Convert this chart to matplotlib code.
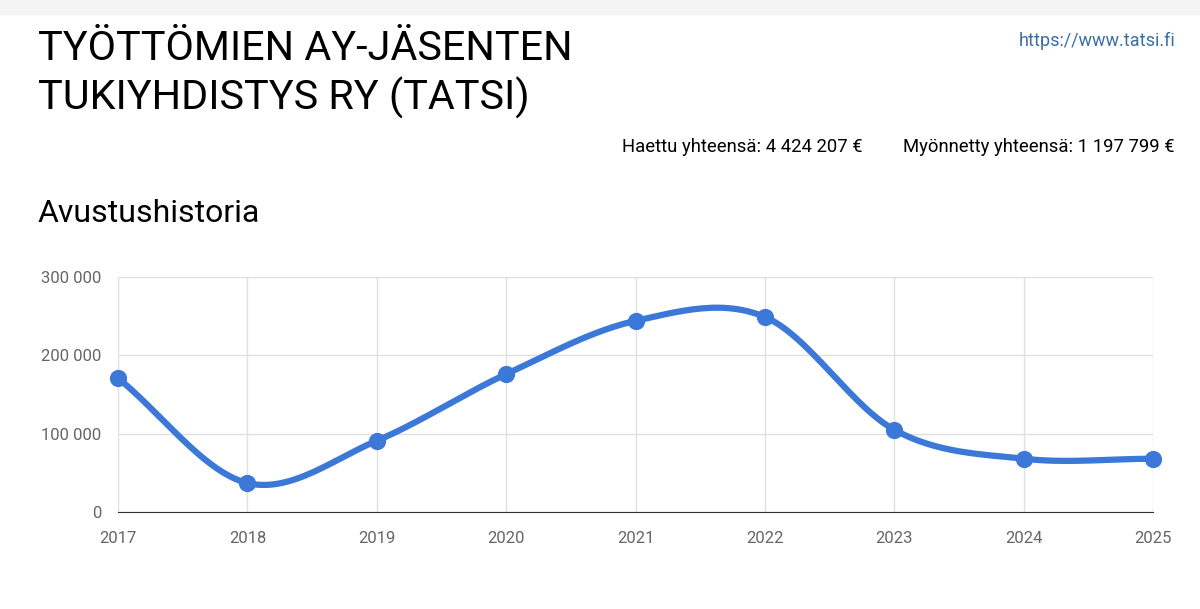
import matplotlib.pyplot as plt
import numpy as np

years = [2017, 2018, 2019, 2020, 2021, 2022, 2023, 2024, 2025]
amounts = [171000, 37000, 91000, 176000, 244000, 249000, 105000, 68000, 68000]
yticks = [0, 100000, 200000, 300000]
ytick_labels = ["0", "100 000", "200 000", "300 000"]

plt.rcParams["font.family"] = ["Roboto", "DejaVu Sans"]


def smooth(x, y, n=30):
    # cardinal spline through the points, similar to the chart's curved line
    x = np.asarray(x, float)
    y = np.asarray(y, float)
    m = np.gradient(y, x)
    xs, ys = [], []
    for i in range(len(x) - 1):
        h = x[i + 1] - x[i]
        t = np.linspace(0, 1, n)
        h00 = 2 * t**3 - 3 * t**2 + 1
        h10 = t**3 - 2 * t**2 + t
        h01 = -2 * t**3 + 3 * t**2
        h11 = t**3 - t**2
        xs.append(x[i] + t * h)
        ys.append(h00 * y[i] + h10 * h * m[i] + h01 * y[i + 1] + h11 * h * m[i + 1])
    return np.concatenate(xs), np.concatenate(ys)


fig = plt.figure(figsize=(12, 6.09), dpi=100)
fig.patches.append(plt.Rectangle((0, 1 - 14 / 609), 1, 14 / 609, transform=fig.transFigure,
                                 color="#f4f4f4", zorder=-1))
fig.text(38 / 1200, 1 - 48 / 609, "TYÖTTÖMIEN AY-JÄSENTEN", fontsize=29.8, va="center")
fig.text(38 / 1200, 1 - 98 / 609, "TUKIYHDISTYS RY (TATSI)", fontsize=29.8, va="center")
fig.text(1175 / 1200, 1 - 41 / 609, "https://www.tatsi.fi", fontsize=13, color="#3a6ea5",
         ha="right", va="center")
fig.text(1175 / 1200, 1 - 147 / 609, "Myönnetty yhteensä: 1 197 799 €", fontsize=13.3,
         ha="right", va="center")
fig.text(863 / 1200, 1 - 147 / 609, "Haettu yhteensä: 4 424 207 €", fontsize=13.3,
         ha="right", va="center")
fig.text(38 / 1200, 1 - 214 / 609, "Avustushistoria", fontsize=23, va="center")

ax = fig.add_axes([118 / 1200, 1 - 512 / 609, (1153 - 118) / 1200, (512 - 277) / 609])
sx, sy = smooth(years, amounts)
ax.plot(sx, sy, color="#3c78d8", lw=4.5, solid_capstyle="round", zorder=3, clip_on=False)
ax.scatter(years, amounts, s=130, color="#3c78d8", zorder=4, clip_on=False)
ax.set_xlim(2017, 2025)
ax.set_ylim(0, 300000)
ax.set_xticks(years)
ax.set_xticklabels([str(y) for y in years])
ax.set_yticks(yticks)
ax.set_yticklabels(ytick_labels)
ax.grid(True, color="#e0e0e0", lw=1)
ax.set_axisbelow(True)
for s in ["top", "right", "left"]:
    ax.spines[s].set_visible(False)
ax.spines["bottom"].set_color("#333333")
ax.tick_params(length=0, labelsize=12, colors="#666666", pad=14)
ax.tick_params(axis="y", pad=12)

fig.savefig("out.png", dpi=100)
